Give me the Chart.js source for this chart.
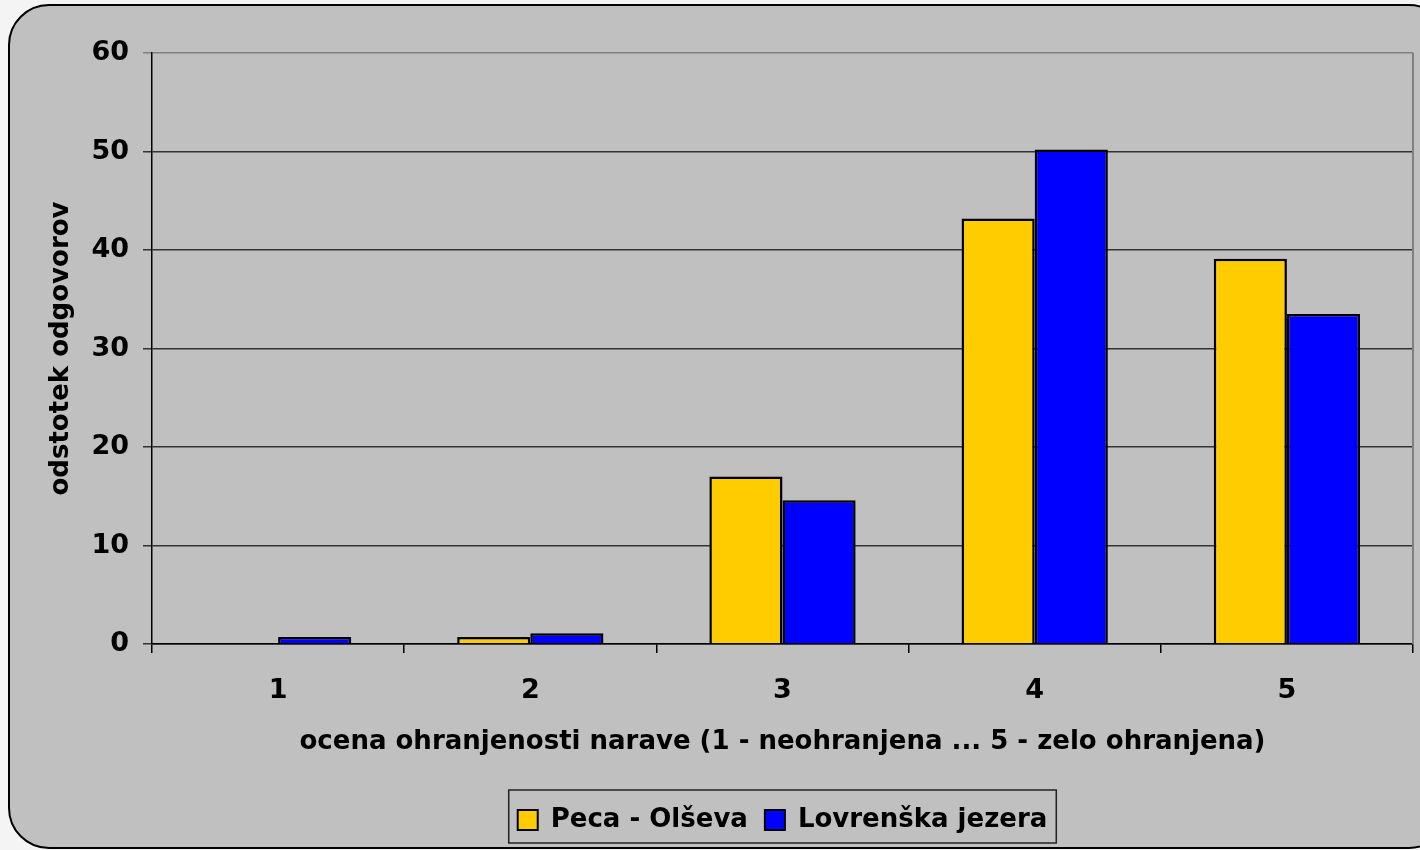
<!DOCTYPE html>
<html>
<head>
<meta charset="utf-8">
<script src="https://cdn.jsdelivr.net/npm/chart.js@4/dist/chart.umd.min.js"></script>
<style>
  html, body { margin: 0; padding: 0; background: #f4f4f4; }
  #wrap { width: 1420px; height: 850px; position: relative; }
</style>
</head>
<body>
<div id="wrap"><canvas id="chart" width="1420" height="850"></canvas></div>
<script>
// Data
const categories = ['1', '2', '3', '4', '5'];
const pecaOlseva = [0, 0.7, 17.0, 43.2, 39.1];
const lovrenskaJezera = [0.7, 1.1, 14.6, 50.2, 33.5];
const yTicks = [0, 10, 20, 30, 40, 50, 60];

const FONT = "'DejaVu Sans', Verdana, sans-serif";

// rounded gray frame behind the whole chart, plus plot border and legend box
const framePlugin = {
  id: 'frame',
  beforeDraw(chart) {
    const ctx = chart.ctx;
    ctx.save();
    ctx.fillStyle = '#f4f4f4';
    ctx.fillRect(0, 0, chart.width, chart.height);
    const x = 9, y = 5, w = 1440, h = 843, r = 40;
    ctx.beginPath();
    ctx.moveTo(x + r, y);
    ctx.lineTo(x + w - r, y);
    ctx.arcTo(x + w, y, x + w, y + r, r);
    ctx.lineTo(x + w, y + h - r);
    ctx.arcTo(x + w, y + h, x + w - r, y + h, r);
    ctx.lineTo(x + r, y + h);
    ctx.arcTo(x, y + h, x, y + h - r, r);
    ctx.lineTo(x, y + r);
    ctx.arcTo(x, y, x + r, y, r);
    ctx.closePath();
    ctx.fillStyle = '#c0c0c0';
    ctx.fill();
    ctx.lineWidth = 2;
    ctx.strokeStyle = '#000';
    ctx.stroke();
    ctx.restore();
  },
  afterDraw(chart) {
    const ctx = chart.ctx;
    const a = chart.chartArea;
    ctx.save();
    // right border of plot area
    ctx.strokeStyle = '#808080';
    ctx.lineWidth = 2;
    ctx.beginPath();
    ctx.moveTo(a.right, a.top);
    ctx.lineTo(a.right, a.bottom);
    ctx.stroke();
    // legend box
    const lg = chart.legend;
    const boxes = lg.legendHitBoxes;
    if (boxes && boxes.length) {
      let l = Infinity, r = -Infinity;
      boxes.forEach(bx => {
        l = Math.min(l, bx.left); r = Math.max(r, bx.left + bx.width);
      });
      ctx.strokeStyle = '#222';
      ctx.lineWidth = 1.5;
      ctx.strokeRect(l - 9, lg.top, (r - l) + 18, lg.bottom - lg.top);
    }
    ctx.restore();
  }
};

new Chart(document.getElementById('chart'), {
  type: 'bar',
  data: {
    labels: categories,
    datasets: [
      {
        label: 'Peca - Olševa',
        data: pecaOlseva,
        backgroundColor: '#ffcc00',
        borderColor: '#000',
        borderWidth: 2.5,
        borderSkipped: 'bottom'
      },
      {
        label: 'Lovrenška jezera',
        data: lovrenskaJezera,
        backgroundColor: '#0000ff',
        borderColor: '#000',
        borderWidth: 2.5,
        borderSkipped: 'bottom'
      }
    ]
  },
  options: {
    responsive: false,
    animation: false,
    devicePixelRatio: 1,
    categoryPercentage: 0.58,
    barPercentage: 1.0,
    layout: { padding: { left: 10, right: 7, top: 53, bottom: 7 } },
    plugins: {
      tooltip: { enabled: false },
      legend: {
        position: 'bottom',
        fullSize: false,
        labels: {
          color: '#000',
          font: { family: FONT, size: 26, weight: 'bold' },
          boxWidth: 20,
          boxHeight: 20,
          padding: 17,
          generateLabels(chart) {
            return chart.data.datasets.map((ds, i) => ({
              text: ds.label,
              fillStyle: ds.backgroundColor,
              strokeStyle: '#000',
              lineWidth: 2,
              datasetIndex: i,
              fontColor: '#000'
            }));
          }
        }
      }
    },
    scales: {
      x: {
        grid: {
          offset: true,
          drawOnChartArea: false,
          tickLength: 9,
          color: '#000',
          lineWidth: 1.5
        },
        border: { color: '#000', width: 1.5 },
        ticks: {
          color: '#000',
          padding: 22,
          font: { family: FONT, size: 27, weight: 'bold' }
        },
        title: {
          display: true,
          text: 'ocena ohranjenosti narave (1 - neohranjena ... 5 - zelo ohranjena)',
          color: '#000',
          font: { family: FONT, size: 26, weight: 'bold' },
          padding: { top: 10, bottom: 32 }
        },
        afterFit(scale) { scale.height = 146; }
      },
      y: {
        min: 0,
        max: 60,
        afterBuildTicks(scale) { scale.ticks = yTicks.map(v => ({ value: v })); },
        grid: {
          tickLength: 9,
          color: ctx => (ctx.tick && ctx.tick.value === 60) ? '#808080' : '#333',
          lineWidth: 1.5
        },
        border: { color: '#000', width: 1.5 },
        ticks: {
          color: '#000',
          padding: 14,
          font: { family: FONT, size: 27, weight: 'bold' }
        },
        title: {
          display: true,
          text: 'odstotek odgovorov',
          color: '#000',
          font: { family: FONT, size: 26, weight: 'bold' },
          padding: { top: 36, bottom: 16 }
        },
        afterFit(scale) { scale.width = 142; }
      }
    }
  },
  plugins: [framePlugin]
});
</script>
</body>
</html>
